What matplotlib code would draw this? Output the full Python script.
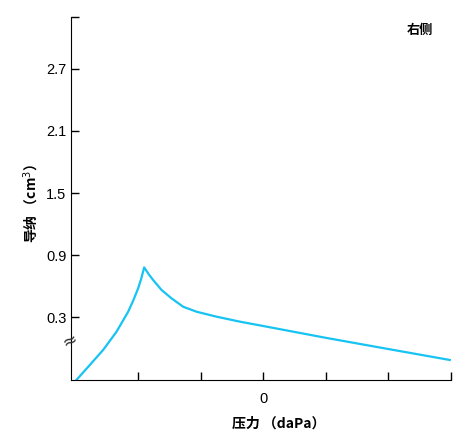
import matplotlib
matplotlib.use("Agg")
import matplotlib.pyplot as plt

plt.rcParams['font.family'] = ['Liberation Sans', 'Noto Sans CJK SC', 'DejaVu Sans']

# pressure (daPa) vs admittance (cm3)
pressure = [-298.6, -277.3, -256, -234.6, -216, -208, -200, -195, -190.4,
            -183, -176, -162.6, -146.6, -128, -106.6, -74.6, -37.3, 0,
            99.2, 200, 298.7]
admittance = [-0.304, -0.160, -0.015, 0.161, 0.354, 0.460, 0.580, 0.675, 0.782,
              0.715, 0.660, 0.564, 0.483, 0.402, 0.354, 0.306, 0.258, 0.216,
              0.103, -0.006, -0.112]

x_ticks = [-200, -100, 0, 100, 200, 300]
x_labels = ['', '', '0', '', '', '']
y_ticks = [0.3, 0.9, 1.5, 2.1, 2.7, 3.2]
y_labels = ['0.3', '0.9', '1.5', '2.1', '2.7', '']

fig = plt.figure(figsize=(4.65, 4.47), dpi=100)
ax = fig.add_axes([0.152, 0.150, 0.817, 0.812])

ax.plot(pressure, admittance, color='#17C3F2', lw=1.6)

ax.set_xlim(-308, 300)
ax.set_ylim(-0.305, 3.2)
ax.set_xticks(x_ticks)
ax.set_xticklabels(x_labels)
ax.set_yticks(y_ticks)
ax.set_yticklabels(y_labels)

ax.spines['top'].set_visible(False)
ax.spines['right'].set_visible(False)
ax.tick_params(direction='in', length=6, width=1, labelsize=10.5)
ax.tick_params(axis='y', pad=3)
ax.tick_params(axis='x', pad=9)

ax.set_xlabel('压力 （daPa）', family=['Noto Sans CJK SC'], fontweight='bold',
              fontsize=10)
ax.xaxis.set_label_coords(0.547, -0.101)
ax.set_ylabel('导纳 （cm$^3$）', family=['Noto Sans CJK SC'], fontweight='bold',
              fontsize=10)
ax.yaxis.set_label_coords(-0.08, 0.485)

ax.text(0.92, 0.965, '右侧', transform=ax.transAxes, ha='center', va='center',
        family=['Noto Sans CJK SC'], fontweight='bold', fontsize=9.5)

# axis break mark
ax.text(-0.001, 0.105, '≈', transform=ax.transAxes, ha='center', va='center',
        rotation=25, fontsize=13, color='#333333', family=['DejaVu Sans'])

fig.savefig('out.png', dpi=100)
